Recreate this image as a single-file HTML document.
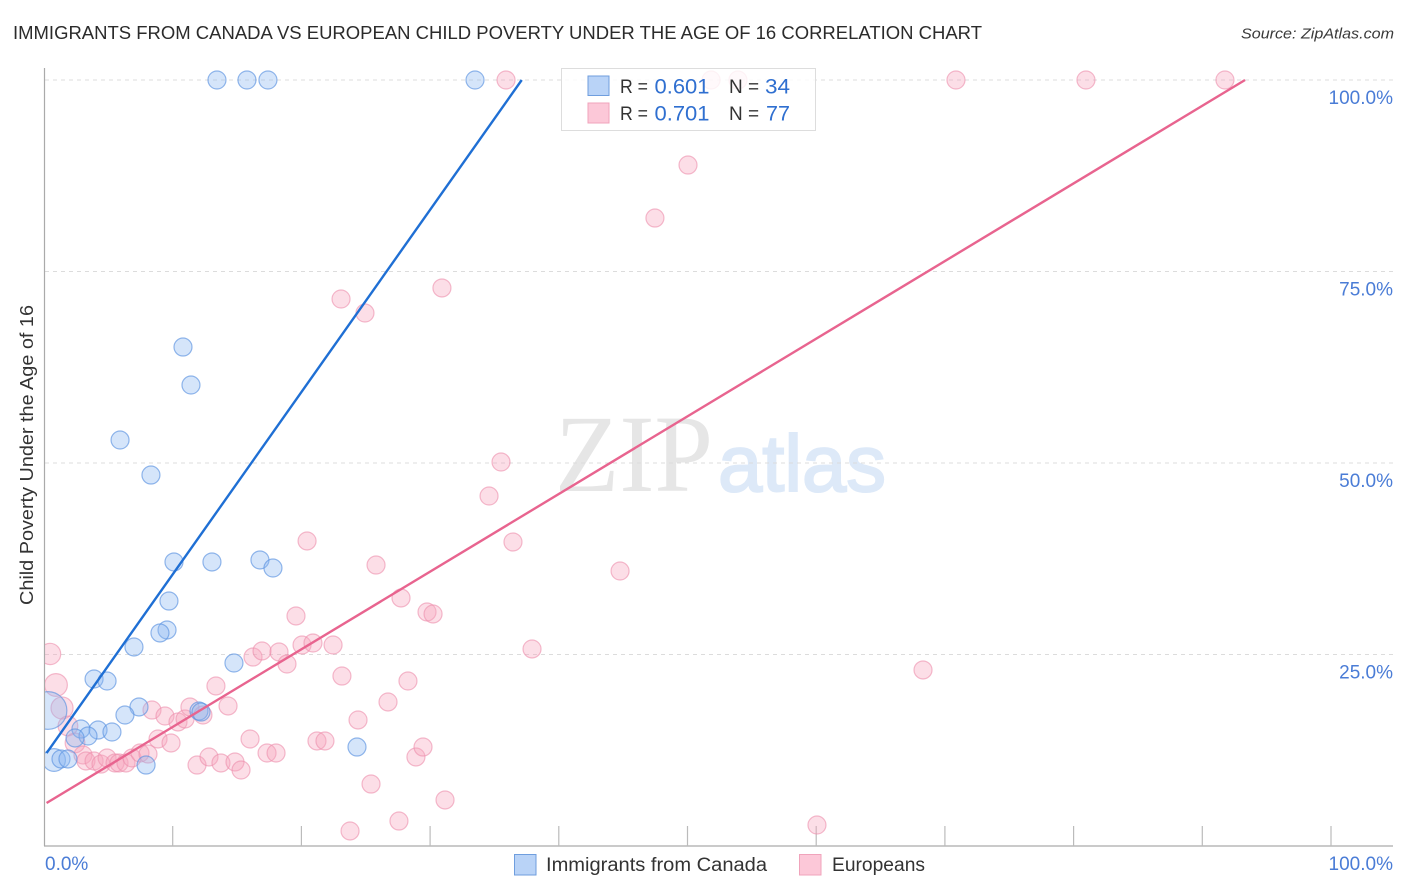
<!DOCTYPE html>
<html lang="en">
<head>
<meta charset="utf-8">
<title>Immigrants from Canada vs European Child Poverty Correlation Chart</title>
<style>
html,body{margin:0;padding:0;background:#fff;}
svg{display:block;font-family:"Liberation Sans",sans-serif;}
</style>
</head>
<body>
<svg id="chart" xmlns="http://www.w3.org/2000/svg" width="1406" height="892" viewBox="0 0 1406 892">
  <defs>
    <clipPath id="plot-clip"><rect x="45" y="60" width="1361" height="786"></rect></clipPath>
  </defs>
  <rect x="0" y="0" width="1406" height="892" fill="#ffffff"></rect>
  <text x="13" y="39" font-size="18.5" fill="#2b2b2b" textLength="969" lengthAdjust="spacingAndGlyphs">IMMIGRANTS FROM CANADA VS EUROPEAN CHILD POVERTY UNDER THE AGE OF 16 CORRELATION CHART</text>
  <text x="1394" y="38.500" font-size="15" font-style="italic" fill="#3a3a3a" text-anchor="end" textLength="153" lengthAdjust="spacingAndGlyphs">Source: ZipAtlas.com</text>
  <g>
    <text x="555" y="491" font-family="'Liberation Serif',serif" font-size="110" fill="#e6e6e6" textLength="158" lengthAdjust="spacingAndGlyphs">ZIP</text>
    <text x="718" y="491" font-size="80" fill="#dde9f8" stroke="#dde9f8" stroke-width="2" textLength="168" lengthAdjust="spacingAndGlyphs">atlas</text>
  </g>
  <g id="grid"></g>
  <g id="axes"></g>
  <g id="points" clip-path="url(#plot-clip)"></g>
  <g id="trends"></g>
  <text transform="translate(33,455) rotate(-90)" font-size="18.500" fill="#333333" text-anchor="middle" textLength="300" lengthAdjust="spacingAndGlyphs">Child Poverty Under the Age of 16</text>

  <g>
    <rect x="561.500" y="68.500" width="254" height="62" fill="#ffffff" fill-opacity="0.82" stroke="#dddddd" stroke-width="1"></rect>
    <rect x="588" y="76" width="21" height="19.500" fill="#b9d3f7" stroke="#6f9ede" stroke-width="1"></rect>
    <rect x="588" y="103" width="21" height="20" fill="#fcc8d8" stroke="#f0a3bb" stroke-width="1"></rect>
    <text x="620" y="93" font-size="19" fill="#333333" textLength="28" lengthAdjust="spacingAndGlyphs">R =</text>
    <text x="654.500" y="93.500" font-size="21" fill="#2f6fd0" textLength="55" lengthAdjust="spacingAndGlyphs">0.601</text>
    <text x="729" y="93" font-size="19" fill="#333333">N =</text>
    <text x="765" y="93.500" font-size="21" fill="#2f6fd0" textLength="25" lengthAdjust="spacingAndGlyphs">34</text>
    <text x="620" y="120" font-size="19" fill="#333333" textLength="28" lengthAdjust="spacingAndGlyphs">R =</text>
    <text x="654.500" y="120.500" font-size="21" fill="#2f6fd0" textLength="55" lengthAdjust="spacingAndGlyphs">0.701</text>
    <text x="729" y="120" font-size="19" fill="#333333">N =</text>
    <text x="766" y="120.500" font-size="21" fill="#2f6fd0" textLength="24" lengthAdjust="spacingAndGlyphs">77</text>
  </g>

  <g>
    <g>
      <rect x="514.500" y="854.500" width="21.500" height="20.500" fill="#b9d3f7" stroke="#6f9ede" stroke-width="1"></rect>
      <text x="546" y="871" font-size="19" fill="#333333" textLength="221" lengthAdjust="spacingAndGlyphs">Immigrants from Canada</text>
    </g>
    <g>
      <rect x="799.500" y="854.500" width="21.500" height="20.500" fill="#fcc8d8" stroke="#f0a3bb" stroke-width="1"></rect>
      <text x="832" y="871" font-size="19" fill="#333333" textLength="93" lengthAdjust="spacingAndGlyphs">Europeans</text>
    </g>
  </g>
</svg>
<script>
const xTickValues = [0, 10, 20, 30, 40, 50, 60, 70, 80, 90, 100];
const yGridValues = [25, 50, 75, 100];
const yTickLabels = ["25.0%", "50.0%", "75.0%", "100.0%"];
const xEndLabels = ["0.0%", "100.0%"];

const canadaX = [13.44, 15.77, 17.40, 33.49, 10.80, 11.42, 5.91, 8.31, 10.10, 13.05, 16.78, 17.79, 9.71, 9.56, 9.01, 6.99, 14.76, 3.89, 4.90, 7.38, 6.29, 12.04, 12.20, 2.87, 4.20, 5.28, 3.42, 2.41, 24.32, 7.93, 0.78, 1.32, 1.86, 0.31];
const canadaY = [100, 100, 100, 100, 65.14, 60.18, 53.00, 48.43, 37.08, 37.08, 37.34, 36.29, 31.98, 28.20, 27.81, 25.98, 23.89, 21.80, 21.54, 18.15, 17.10, 17.62, 17.49, 15.27, 15.14, 14.88, 14.36, 14.10, 12.92, 10.57, 11.23, 11.36, 11.36, 17.69];
const canadaWeight = [1, 1, 1, 1, 1, 1, 1, 1, 1, 1, 1, 1, 1, 1, 1, 1, 1, 1, 1, 1, 1, 1, 1, 1, 1, 1, 1, 1, 1, 1, 1.6, 1, 1, 4.4];

const europeansX = [0.47, 0.93, 1.40, 1.86, 2.41, 3.03, 3.26, 3.89, 4.43, 4.90, 5.52, 5.83, 6.37, 6.84, 7.46, 8.08, 8.86, 9.87, 8.39, 9.40, 10.41, 10.96, 11.34, 12.35, 13.36, 14.30, 11.89, 12.82, 13.75, 14.84, 15.31, 16.01, 17.33, 18.03, 16.24, 16.94, 18.26, 18.88, 19.58, 20.05, 20.90, 22.46, 20.44, 23.08, 24.94, 30.92, 23.15, 24.40, 26.73, 28.28, 25.80, 27.74, 29.76, 30.23, 37.92, 36.44, 34.58, 35.51, 44.76, 47.47, 50.04, 68.30, 60.06, 23.78, 27.58, 31.16, 25.41, 28.90, 29.45, 21.21, 21.83, 35.90, 51.83, 53.92, 70.86, 80.96, 91.76];
const europeansY = [25.07, 21.02, 18.02, 15.67, 13.45, 11.88, 11.10, 11.10, 10.70, 11.49, 10.84, 10.84, 10.84, 11.49, 12.14, 12.01, 13.97, 13.45, 17.75, 16.97, 16.19, 16.58, 18.15, 17.10, 20.89, 18.28, 10.57, 11.62, 10.84, 10.97, 9.92, 13.97, 12.14, 12.14, 24.67, 25.46, 25.33, 23.76, 30.03, 26.24, 26.50, 26.24, 39.82, 71.41, 69.58, 72.85, 22.19, 16.45, 18.80, 21.54, 36.68, 32.38, 30.55, 30.29, 25.72, 39.69, 45.69, 50.13, 35.90, 81.98, 88.90, 22.98, 2.74, 1.96, 3.26, 6.01, 8.09, 11.62, 12.92, 13.71, 13.71, 100, 100, 100, 100, 100, 100];
const europeansWeight = [1.4, 1.6, 1.5, 1.2, 1.2];

const canadaTrendX = [0.2, 37.12];
const canadaTrendY = [12.14, 100];
const europeansTrendX = [0.2, 93.32];
const europeansTrendY = [5.61, 100];

const NS = "http://www.w3.org/2000/svg";
const xScale = function (v) { return 44 + v * 12.87; };
const yScale = function (v) { return 846 - v * 7.66; };

function make(tag, parent, attrs) {
  const el = document.createElementNS(NS, tag);
  Object.keys(attrs).forEach(function (k) { el.setAttribute(k, attrs[k]); });
  parent.appendChild(el);
  return el;
}

const grid = document.getElementById("grid");
const axes = document.getElementById("axes");
const points = document.getElementById("points");
const trends = document.getElementById("trends");

yGridValues.forEach(function (v, i) {
  const line = make("line", grid, { x1: 45, x2: 1393, y1: yScale(v), y2: yScale(v), stroke: "#dcdcdc", "stroke-width": 1, "stroke-dasharray": "4 4" });
  
  
  const label = make("text", axes, { x: 1393, y: yScale(v) + 24, "text-anchor": "end", "font-size": 19, fill: "#4a7cd6" });
  
  
  label.textContent = yTickLabels[i];
});

const yAxisLine = make("line", axes, { x1: 44.5, x2: 44.5, y1: 68, y2: 846, stroke: "#aaaaaa", "stroke-width": 1.2 });



const xAxisLine = make("line", axes, { x1: 44, x2: 1393, y1: 846, y2: 846, stroke: "#aaaaaa", "stroke-width": 1.2 });



xTickValues.forEach(function (v) {
  if (v === 0) { return; }
  const tick = make("line", axes, { x1: xScale(v), x2: xScale(v), y1: 826, y2: 846, stroke: "#bbbbbb", "stroke-width": 1.2 });
  
  
});

const xLabelLeft = make("text", axes, { x: 45, y: 870, "font-size": 19, fill: "#4a7cd6" });


xLabelLeft.textContent = xEndLabels[0];

const xLabelRight = make("text", axes, { x: 1393, y: 870, "text-anchor": "end", "font-size": 19, fill: "#4a7cd6" });


xLabelRight.textContent = xEndLabels[1];

europeansX.forEach(function (v, i) {
  const w = europeansWeight[i] || 1;
  const dot = make("circle", points, { cx: xScale(v), cy: yScale(europeansY[i]), r: 9 * Math.sqrt(w), fill: "#f7a3bd", "fill-opacity": 0.36, stroke: "#ec8dab", "stroke-opacity": 0.6, "stroke-width": 1.2 });
  
  
});

canadaX.forEach(function (v, i) {
  const dot = make("circle", points, { cx: xScale(v), cy: yScale(canadaY[i]), r: 9 * Math.sqrt(canadaWeight[i]), fill: "#8ab6f0", "fill-opacity": 0.36, stroke: "#5a92e0", "stroke-opacity": 0.65, "stroke-width": 1.2 });
  
  
});

const canadaTrend = make("line", trends, { x1: xScale(canadaTrendX[0]), y1: yScale(canadaTrendY[0]), x2: xScale(canadaTrendX[1]), y2: yScale(canadaTrendY[1]), stroke: "#1f6fd4", "stroke-width": 2.4 });



const europeansTrend = make("line", trends, { x1: xScale(europeansTrendX[0]), y1: yScale(europeansTrendY[0]), x2: xScale(europeansTrendX[1]), y2: yScale(europeansTrendY[1]), stroke: "#e8648f", "stroke-width": 2.4 });


</script>
</body>
</html>
